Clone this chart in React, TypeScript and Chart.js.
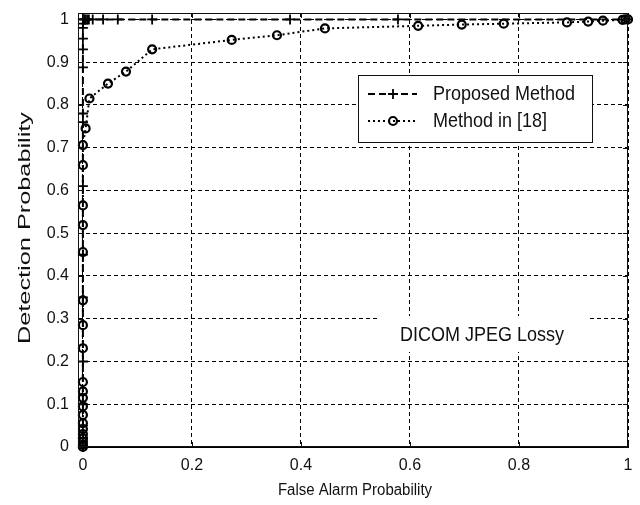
import { useEffect, useRef } from 'react';
import { Chart, registerables } from 'chart.js';

Chart.register(...registerables);

// Proposed Method (dashed, '+')
const proposedX = [0, 0, 0, 0, 0, 0, 0, 0, 0, 0, 0, 0, 0, 0, 0, 0, 0.001, 0.003, 0.005, 0.008, 0.011, 0.018, 0.037, 0.064, 0.127, 0.38, 0.578, 1];
const proposedY = [0, 0.02, 0.05, 0.1, 0.2, 0.35, 0.45, 0.61, 0.76, 0.78, 0.888, 0.93, 0.955, 0.98, 0.99, 1, 1, 1, 1, 1, 1, 1, 1, 1, 1, 1, 1, 1];

// Method in [18] (dotted, 'o')
const methodX = [0, 0, 0, 0, 0, 0, 0, 0, 0, 0, 0, 0, 0, 0, 0, 0, 0, 0, 0, 0, 0.005, 0.012, 0.046, 0.079, 0.127, 0.273, 0.356, 0.444, 0.615, 0.695, 0.772, 0.888, 0.927, 0.954, 0.99, 0.995, 1];
const methodY = [0, 0.005, 0.012, 0.02, 0.03, 0.042, 0.056, 0.075, 0.095, 0.115, 0.13, 0.152, 0.231, 0.285, 0.343, 0.456, 0.519, 0.565, 0.659, 0.706, 0.745, 0.815, 0.85, 0.878, 0.93, 0.952, 0.963, 0.979, 0.985, 0.988, 0.99, 0.993, 0.995, 0.997, 0.999, 1, 1];

const xTicks = [0, 0.2, 0.4, 0.6, 0.8, 1];
const yTicks = [0, 0.1, 0.2, 0.3, 0.4, 0.5, 0.6, 0.7, 0.8, 0.9, 1];
const seriesNames = ['Proposed Method', 'Method in [18]'];
const xTitle = 'False Alarm Probability';
const yTitle = 'Detection Probability';
const annotationText = 'DICOM JPEG Lossy';

const FONT = '"Liberation Sans", Arial, Helvetica, sans-serif';
const INK = '#111';

const toPoints = (xs: number[], ys: number[]) => xs.map((x, i) => ({ x, y: ys[i] }));

function stretchedText(ctx: CanvasRenderingContext2D, text: string, x: number, y: number, size: number, align: CanvasTextAlign, sy = 1.15) {
  ctx.save();
  ctx.translate(x, y);
  ctx.scale(1, sy);
  ctx.font = `${size}px ${FONT}`;
  ctx.textAlign = align;
  ctx.textBaseline = 'middle';
  ctx.fillStyle = INK;
  ctx.fillText(text, 0, 0);
  ctx.restore();
}

const framePlugin = {
  id: 'frame',
  afterDraw(chart: any) {
    const { ctx, chartArea: a, scales } = chart;
    ctx.save();
    // frame
    ctx.strokeStyle = INK;
    ctx.lineWidth = 1;
    ctx.setLineDash([]);
    ctx.strokeRect(a.left + 0.5, a.top + 0.5, a.right - a.left - 1, a.bottom - a.top - 1);
    // inward ticks
    const tl = 5;
    ctx.beginPath();
    xTicks.forEach((v) => {
      const px = Math.round(scales.x.getPixelForValue(v)) + 0.5;
      ctx.moveTo(px, a.bottom); ctx.lineTo(px, a.bottom - tl);
      ctx.moveTo(px, a.top); ctx.lineTo(px, a.top + tl);
    });
    yTicks.forEach((v) => {
      const py = Math.round(scales.y.getPixelForValue(v)) + 0.5;
      ctx.moveTo(a.left, py); ctx.lineTo(a.left + tl, py);
      ctx.moveTo(a.right, py); ctx.lineTo(a.right - tl, py);
    });
    ctx.stroke();

    // y axis title (tall, stretched along its length)
    ctx.save();
    ctx.translate(25, 228);
    ctx.rotate(-Math.PI / 2);
    ctx.font = `17px ${FONT}`;
    const w = ctx.measureText(yTitle).width;
    ctx.scale(232 / w, 1);
    ctx.fillStyle = INK;
    ctx.textAlign = 'center';
    ctx.textBaseline = 'middle';
    ctx.fillText(yTitle, 0, 0);
    ctx.restore();

    // x axis title
    stretchedText(ctx, xTitle, 355, 490, 15, 'center');

    // annotation with white backing
    ctx.fillStyle = '#fff';
    ctx.fillRect(379, 316, 211, 36);
    stretchedText(ctx, annotationText, 482, 335, 18, 'center');

    // legend
    const lx = 358, ly = 75, lw = 234, lh = 67;
    ctx.fillStyle = '#fff';
    ctx.fillRect(lx, ly, lw, lh);
    ctx.strokeStyle = INK;
    ctx.lineWidth = 1;
    ctx.strokeRect(lx + 0.5, ly + 0.5, lw, lh);
    const rows = [94, 121];
    chart.data.datasets.forEach((ds: any, i: number) => {
      const y = rows[i];
      ctx.save();
      ctx.strokeStyle = ds.borderColor;
      ctx.lineWidth = ds.borderWidth;
      ctx.setLineDash(ds.borderDash);
      ctx.beginPath();
      ctx.moveTo(368, y);
      ctx.lineTo(417, y);
      ctx.stroke();
      ctx.setLineDash([]);
      ctx.lineWidth = ds.pointBorderWidth;
      ctx.beginPath();
      if (ds.pointStyle === 'cross') {
        ctx.moveTo(393 - ds.pointRadius, y); ctx.lineTo(393 + ds.pointRadius, y);
        ctx.moveTo(393, y - ds.pointRadius); ctx.lineTo(393, y + ds.pointRadius);
      } else {
        ctx.arc(393, y, ds.pointRadius, 0, Math.PI * 2);
      }
      ctx.stroke();
      ctx.restore();
      stretchedText(ctx, seriesNames[i], 433, y, 18, 'left');
    });
    ctx.restore();
  },
};

export default function App() {
  const ref = useRef<HTMLCanvasElement>(null);
  useEffect(() => {
    document.body.style.margin = '0';
    const canvas = ref.current!;
    const chart = new Chart(canvas, {
      type: 'scatter',
      data: {
        datasets: [
          {
            label: seriesNames[0],
            data: toPoints(proposedX, proposedY),
            showLine: true,
            borderColor: '#000',
            backgroundColor: 'rgba(0,0,0,0)',
            borderWidth: 2,
            borderDash: [7, 4],
            pointStyle: 'cross',
            pointRadius: 5,
            pointBorderWidth: 1.8,
            pointBorderColor: '#000',
            tension: 0,
            clip: false,
          } as any,
          {
            label: seriesNames[1],
            data: toPoints(methodX, methodY),
            showLine: true,
            borderColor: '#000',
            backgroundColor: 'rgba(0,0,0,0)',
            borderWidth: 2,
            borderDash: [2, 3],
            pointStyle: 'circle',
            pointRadius: 4,
            pointBorderWidth: 2.2,
            pointBorderColor: '#000',
            pointBackgroundColor: 'rgba(0,0,0,0)',
            tension: 0,
            clip: false,
          } as any,
        ],
      },
      options: {
        animation: false,
        responsive: false,
        maintainAspectRatio: false,
        layout: { padding: { left: 0, top: 13, right: 12, bottom: 0 } },
        plugins: { legend: { display: false }, tooltip: { enabled: false } },
        scales: {
          x: {
            type: 'linear',
            min: -0.009,
            max: 1,
            afterFit: (s: any) => { s.height = 58; s.paddingLeft = 0; s.paddingRight = 0; },
            afterBuildTicks: (s: any) => { s.ticks = xTicks.map((v) => ({ value: v })); },
            ticks: {
              color: INK,
              font: { family: FONT, size: 16 },
              padding: 9,
              maxRotation: 0,
              callback: (v: any) => String(v),
            },
            grid: { color: '#000', lineWidth: 1, drawTicks: false },
            border: { display: true, color: '#000', dash: [4, 3] },
            title: { display: false },
          },
          y: {
            type: 'linear',
            min: 0,
            max: 1.015,
            afterFit: (s: any) => { s.width = 78; s.paddingTop = 0; s.paddingBottom = 0; },
            afterBuildTicks: (s: any) => { s.ticks = yTicks.map((v) => ({ value: v })); },
            ticks: {
              color: INK,
              font: { family: FONT, size: 16 },
              padding: 9,
              callback: (v: any) => String(v),
            },
            grid: { color: '#000', lineWidth: 1, drawTicks: false },
            border: { display: true, color: '#000', dash: [4, 3] },
            title: { display: false },
          },
        },
      } as any,
      plugins: [framePlugin],
    });
    return () => chart.destroy();
  }, []);
  return <canvas ref={ref} width={640} height={505} style={{ display: 'block' }} />;
}
